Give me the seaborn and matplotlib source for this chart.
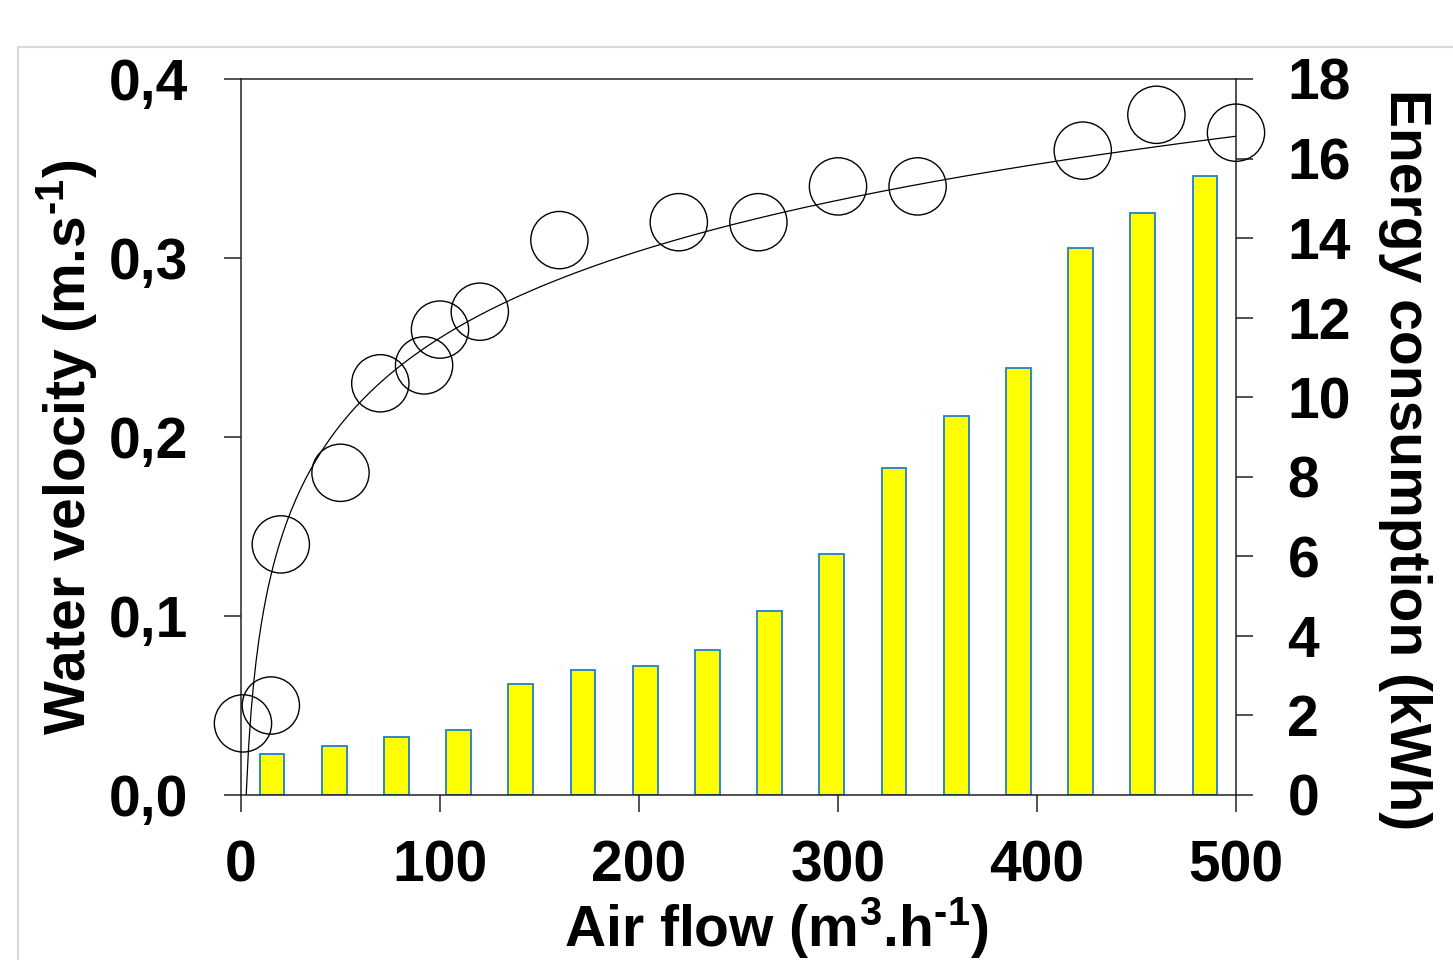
import numpy as np
import matplotlib
matplotlib.use("Agg")
import matplotlib.pyplot as plt
from matplotlib.patches import Rectangle
import seaborn as sns

# ---------------- data ----------------
# Water velocity (circles, left axis)
vel_x = [1, 15, 20, 50, 70, 92, 100, 120, 160, 220, 260, 300, 340, 423, 460, 500]
vel_y = [0.04, 0.05, 0.14, 0.18, 0.23, 0.24, 0.26, 0.27, 0.31, 0.32, 0.32,
         0.34, 0.34, 0.36, 0.38, 0.37]

# Energy consumption (bars, right axis)
bar_x = [15.6, 46.9, 78.1, 109.4, 140.6, 171.9, 203.1, 234.4, 265.6, 296.9,
         328.1, 359.4, 390.6, 421.9, 453.1, 484.4]
bar_y = [1.02, 1.24, 1.47, 1.63, 2.80, 3.14, 3.24, 3.65, 4.63, 6.07, 8.23,
         9.54, 10.73, 13.74, 14.64, 15.57]

# logarithmic trend line y = a + b*ln(x), coefficients as drawn in the figure
fit_a = -0.067
fit_b = 0.070
fit_x_range = [2.6, 500]

x_ticks = [0, 100, 200, 300, 400, 500]
x_ticklabels = ["0", "100", "200", "300", "400", "500"]
yl_ticks = [0.0, 0.1, 0.2, 0.3, 0.4]
yl_ticklabels = ["0,0", "0,1", "0,2", "0,3", "0,4"]
yr_ticks = [0, 2, 4, 6, 8, 10, 12, 14, 16, 18]
yr_ticklabels = [str(v) for v in yr_ticks]

xlabel = "Air flow (m$^{3}$.h$^{\u20101}$)"
ylabel_left = "Water velocity (m.s$^{\u20101}$)"
ylabel_right = "Energy consumption (kWh)"

# ---------------- style ----------------
sns.set_theme(style="white")
plt.rcParams["font.family"] = ["Liberation Sans", "DejaVu Sans"]
plt.rcParams["font.weight"] = "bold"
plt.rcParams["mathtext.fontset"] = "custom"
plt.rcParams["mathtext.rm"] = "Liberation Sans:bold"
plt.rcParams["mathtext.it"] = "Liberation Sans:bold"
plt.rcParams["mathtext.bf"] = "Liberation Sans:bold"
plt.rcParams["mathtext.default"] = "regular"
plt.rcParams["text.color"] = "black"
plt.rcParams["axes.labelcolor"] = "black"
plt.rcParams["xtick.color"] = "black"
plt.rcParams["ytick.color"] = "black"

FS = 41
SPINE = "#222222"

fig = plt.figure(figsize=(14.53, 9.6), dpi=100)
fig.patch.set_facecolor("white")
fig.add_artist(Rectangle((18 / 1453, -0.2), 1.5, 1.2 - 47 / 960 + 0.0,
                         transform=fig.transFigure, fill=False,
                         edgecolor="#d9d9d9", linewidth=1.5, zorder=0))

ax = fig.add_axes([241 / 1453, 1 - 795 / 960, 995 / 1453, 716 / 960])
ax2 = ax.twinx()

# bars on right axis
sns.barplot(x=bar_x, y=bar_y, native_scale=True, width=0.4, color="#ffff00",
            saturation=1, edgecolor="#1f7fd0", linewidth=1.3, errorbar=None,
            ax=ax2)

# trend line
fx = np.linspace(fit_x_range[0], fit_x_range[1], 400)
fy = fit_a + fit_b * np.log(fx)
sns.lineplot(x=fx, y=fy, color="black", linewidth=0.9, ax=ax, sort=False)

# circles
sns.scatterplot(x=vel_x, y=vel_y, s=1700, marker="o", facecolors="none",
                edgecolors="black", linewidths=1.0, ax=ax, zorder=5)
for coll in ax.collections:
    coll.set_clip_on(False)
    coll.set_facecolor("none")
    coll.set_edgecolor("black")

ax.set_zorder(ax2.get_zorder() + 1)
ax.patch.set_visible(False)

ax.set_xlim(0, 500)
ax2.set_xlim(0, 500)
ax.set_ylim(0, 0.4)
ax2.set_ylim(0, 18)

ax.set_xticks(x_ticks)
ax.set_xticklabels(x_ticklabels, fontsize=FS, fontweight="bold", color="black")
ax.set_yticks(yl_ticks)
ax.set_yticklabels(yl_ticklabels, fontsize=FS, fontweight="bold", color="black")
ax2.set_yticks(yr_ticks)
ax2.set_yticklabels(yr_ticklabels, fontsize=FS, fontweight="bold", color="black")

for s in ax.spines.values():
    s.set_color(SPINE)
    s.set_linewidth(1.1)
    s.set_visible(True)
for s in ax2.spines.values():
    s.set_visible(False)

ax.tick_params(axis="x", which="both", direction="out", length=12, width=1.1,
               color=SPINE, pad=20, bottom=True, top=False)
ax.tick_params(axis="y", which="both", direction="out", length=12, width=1.1,
               color=SPINE, pad=26, left=True, right=False)
ax2.tick_params(axis="y", which="both", direction="out", length=12, width=1.1,
                color=SPINE, pad=25, right=True, left=False)
ax2.tick_params(axis="x", bottom=False, top=False, labelbottom=False)

ax.set_xlabel(xlabel, fontsize=FS, fontweight="bold", ha="center", va="center",
              color="black")
ax.xaxis.set_label_coords(0.5377, -0.186)
ax.set_ylabel(ylabel_left, fontsize=FS, fontweight="bold", ha="center",
              va="center", color="black")
ax.yaxis.set_label_coords(-0.175, 0.486)
ax2.set_ylabel(ylabel_right, fontsize=FS, fontweight="bold", rotation=-90,
               ha="center", va="center", color="black")
ax2.yaxis.set_label_coords(1.17, 0.469)
ax.grid(False)
ax2.grid(False)

fig.savefig("out.png", dpi=100, facecolor="white")
